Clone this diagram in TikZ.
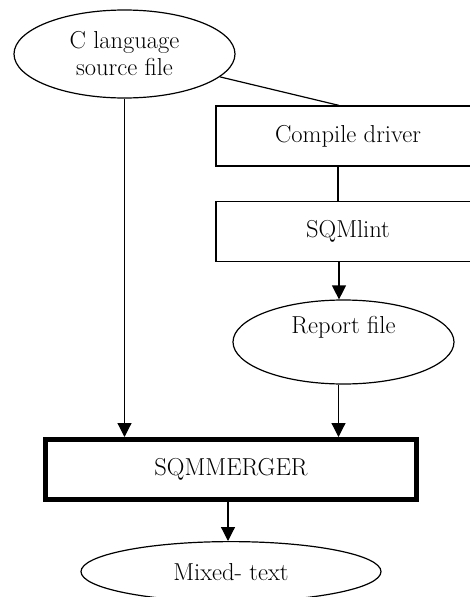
\documentclass[tikz,border=0pt]{standalone}
\usepackage{tikz}
\usetikzlibrary{positioning,shapes.geometric,arrows.meta}

\begin{document}
\begin{tikzpicture}[
  x=1pt, y=-1pt,
  stepbox/.style={draw, line width=1.2pt, minimum width=264pt,
                  minimum height=60pt, align=center},
  blob/.style={draw, ellipse, line width=1.2pt, inner sep=0pt, align=center},
  mainbox/.style={draw, line width=5pt, minimum width=371pt,
                  minimum height=60pt, align=center},
  every node/.style={font=\fontsize{24.5}{27}\selectfont},
  >={Triangle[length=14pt,width=14pt]},
  every path/.style={line width=1.2pt}
]
\useasboundingbox (0,0) rectangle (469,597);

% Source file
\node[blob, minimum width=221pt, minimum height=88pt] (src) at (124.5,54) {C language\\source file};

% Compile chain
\node[stepbox] (drv) at (348,136) {Compile driver};
\node[stepbox, below=34pt of drv] (lint) {SQMlint};
\node[blob, minimum width=221pt, minimum height=84pt] (rep) at (343.5,342) {Report file\\\strut};

% Merger and output
\node[mainbox] (mrg) at (231,469.5) {SQMMERGER};
\node[blob, minimum width=300pt, minimum height=60pt, below=39pt of mrg] (mix) {Mixed- text};

% Connections
\draw (src) -- ([xshift=-9pt]drv.north);
\draw ([xshift=-10pt]drv.south) -- ([xshift=-10pt]lint.north);
\draw[->] ([xshift=-9pt]lint.south) -- ([xshift=-9pt]lint.south |- rep.north);
\draw[->] (src.south) -- (src.south |- mrg.north);
\draw[->] ([xshift=-5pt]rep.south) -- ([xshift=-5pt]rep.south |- mrg.north);
\draw[->] ([xshift=-3pt]mrg.south) -- ([xshift=-3pt]mrg.south |- mix.north);

\end{tikzpicture}
\end{document}
